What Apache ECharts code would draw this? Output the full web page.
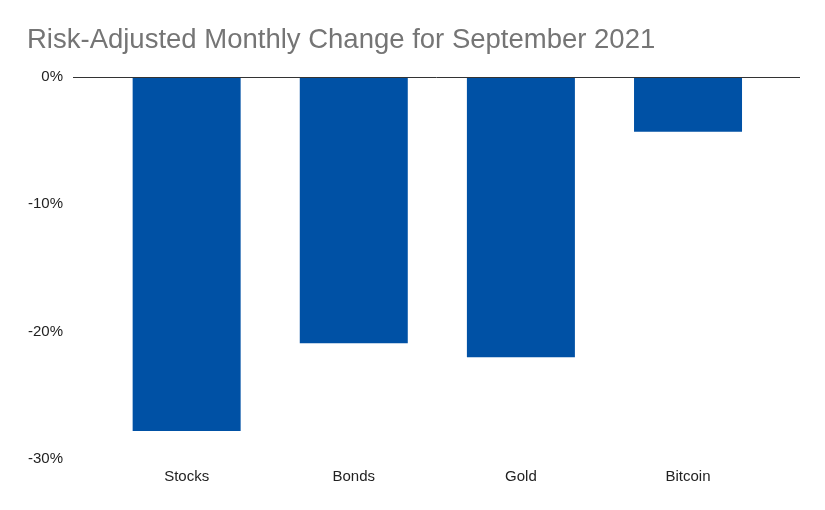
<!DOCTYPE html>
<html>
<head>
<meta charset="utf-8">
<script src="https://cdn.jsdelivr.net/npm/echarts@6/dist/echarts.min.js"></script>
<style>html,body{margin:0;padding:0;background:#fff}#chart{width:825px;height:510px}</style>
</head>
<body>
<div id="chart"></div>
<script>
// Grafico de cambio mensual
var categorias = ["Stocks", "Bonds", "Gold", "Bitcoin"];
var valores = [-27.8, -20.9, -22.0, -4.3];

var chart = echarts.init(document.querySelector("#chart"));
chart.setOption({
  animation: false,
  title: {
    text: "Risk-Adjusted Monthly Change for September 2021",
    left: 22,
    top: 21,
    textStyle: { fontFamily: "Liberation Sans", fontSize: 27.5, fontWeight: "normal", color: "#757575" }
  },
  grid: { left: 73, right: 25, top: 77, bottom: 51 },
  xAxis: {
    type: "value",
    min: -0.68,
    max: 3.67,
    splitLine: { show: false },
    axisLine: { show: false },
    axisTick: { show: false },
    axisLabel: {
      customValues: [0, 1, 2, 3],
      formatter: function (v) { return categorias[Math.round(v)]; },
      fontFamily: "Liberation Sans", fontSize: 15, color: "#222", margin: 10
    }
  },
  yAxis: {
    type: "value",
    min: -30,
    max: 0,
    interval: 10,
    axisLine: { show: false },
    axisTick: { show: false },
    splitLine: { show: false },
    axisLabel: { formatter: "{value}%", fontFamily: "Liberation Sans", fontSize: 15, color: "#222", margin: 10 }
  },
  series: [{
    type: "bar",
    data: valores.map(function (v, i) { return [i, v]; }),
    barWidth: 108,
    itemStyle: { color: "#0051a5" },
    markLine: {
      silent: true,
      symbol: "none",
      label: { show: false },
      lineStyle: { color: "#333", type: "solid", width: 1 },
      data: [{ yAxis: 0 }]
    }
  }]
});
</script>
</body>
</html>
